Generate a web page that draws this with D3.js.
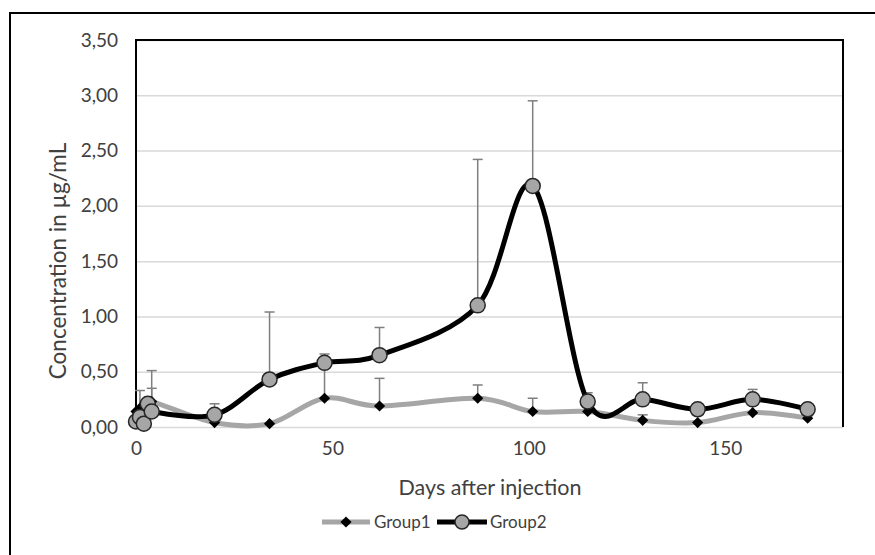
<!DOCTYPE html>
<html lang="en">
<head>
<meta charset="UTF-8">
<title>Concentration chart</title>
<script src="https://cdn.jsdelivr.net/npm/d3@7"></script>
<style>
  body { margin: 0; background: #fff; }
  text { font-family: Lato, "Open Sans", sans-serif; fill: #404040; }
</style>
</head>
<body>
<div id="chart"></div>
<script>
  // values
  const days = [0, 1, 2, 3, 4, 20, 34, 48, 62, 87, 101, 115, 129, 143, 157, 171];
  const group1 = [0.14, 0.17, 0.10, 0.19, 0.23, 0.04, 0.03, 0.26, 0.19, 0.26, 0.14, 0.14, 0.06, 0.04, 0.13, 0.08];
  const group2 = [0.05, 0.09, 0.03, 0.21, 0.14, 0.11, 0.43, 0.58, 0.65, 1.10, 2.18, 0.23, 0.25, 0.16, 0.25, 0.16];
  const group1Err = [0, 0.16, 0, 0, 0.12, 0, 0, 0.40, 0.25, 0.12, 0.12, 0, 0.05, 0, 0, 0.02];
  const group2Err = [0, 0, 0, 0, 0.37, 0.10, 0.61, 0.05, 0.25, 1.32, 0.77, 0.08, 0.15, 0, 0.09, 0.05];
  const yTicks = [0, 0.5, 1, 1.5, 2, 2.5, 3, 3.5];
  const xTicks = [0, 50, 100, 150];

  const W = 875, H = 555;
  const svg = d3.select('#chart').append('svg')
    .attr('width', W)
    .attr('height', H);

  // outer chart border (cut off at right and bottom)
  svg.append('rect')
    .attr('x', 10).attr('y', 13)
    .attr('width', 900).attr('height', 600)
    .attr('fill', 'none')
    .attr('stroke', '#000')
    .attr('stroke-width', 2);

  const x = d3.scaleLinear().domain([0, 180]).range([136, 843]);
  const y = d3.scaleLinear().domain([0, 3.5]).range([427, 40]);

  // gridlines
  svg.append('g')
    .attr('transform', 'translate(136,0)')
    .call(d3.axisLeft(y).tickValues(yTicks).tickSize(-(843 - 136)).tickFormat(''))
    .call(g => g.select('.domain').remove())
    .call(g => g.selectAll('line').attr('stroke', '#d9d9d9').attr('stroke-width', 1.5));

  // y tick labels
  svg.append('g')
    .attr('transform', 'translate(136,0)')
    .call(d3.axisLeft(y).tickValues(yTicks).tickSize(0).tickPadding(18)
      .tickFormat(d => d.toFixed(2).replace('.', ',')))
    .call(g => g.select('.domain').remove())
    .call(g => g.selectAll('text').attr('font-size', 19).attr('font-family', 'Lato, sans-serif').attr('fill', '#404040'));

  // x tick labels
  svg.append('g')
    .attr('transform', 'translate(0,427)')
    .call(d3.axisBottom(x).tickValues(xTicks).tickSize(0).tickPadding(15))
    .call(g => g.select('.domain').remove())
    .call(g => g.selectAll('text').attr('font-size', 19).attr('font-family', 'Lato, sans-serif').attr('fill', '#404040'));

  // plot area border: top, left, right
  svg.append('path')
    .attr('d', `M136,427V40H843V427`)
    .attr('fill', 'none')
    .attr('stroke', '#000')
    .attr('stroke-width', 2);

  // axis titles
  svg.append('text')
    .attr('x', 490).attr('y', 495)
    .attr('text-anchor', 'middle')
    .attr('font-size', 21.5)
    .text('Days after injection');

  svg.append('text')
    .attr('transform', 'translate(66,261) rotate(-90)')
    .attr('text-anchor', 'middle')
    .attr('font-size', 22.5)
    .text('Concentration in µg/mL');

  const g1 = days.map((d, i) => ({ x: d, y: group1[i], e: group1Err[i] }));
  const g2 = days.map((d, i) => ({ x: d, y: group2[i], e: group2Err[i] }));

  // error bars (plus direction only)
  function errorBars(data) {
    const eb = svg.append('g').attr('stroke', '#7f7f7f').attr('stroke-width', 1.5);
    data.filter(d => d.e > 0).forEach(d => {
      eb.append('line')
        .attr('x1', x(d.x)).attr('x2', x(d.x))
        .attr('y1', y(d.y)).attr('y2', y(d.y + d.e));
      eb.append('line')
        .attr('x1', x(d.x) - 5).attr('x2', x(d.x) + 5)
        .attr('y1', y(d.y + d.e)).attr('y2', y(d.y + d.e));
    });
  }
  errorBars(g1);
  errorBars(g2);

  const line = d3.line()
    .x(d => x(d.x))
    .y(d => y(d.y))
    .curve(d3.curveCardinal.tension(0));

  svg.append('path')
    .datum(g1)
    .attr('d', line)
    .attr('fill', 'none')
    .attr('stroke', '#a6a6a6')
    .attr('stroke-width', 5)
    .attr('stroke-linejoin', 'round');

  svg.append('path')
    .datum(g2)
    .attr('d', line)
    .attr('fill', 'none')
    .attr('stroke', '#000')
    .attr('stroke-width', 5)
    .attr('stroke-linejoin', 'round');

  const diamond = d3.symbol().type(d3.symbolDiamond2).size(80);

  svg.append('g').selectAll('path')
    .data(g1)
    .enter()
    .append('path')
    .attr('d', diamond)
    .attr('transform', d => `translate(${x(d.x)},${y(d.y)})`)
    .attr('fill', '#000');

  svg.append('g').selectAll('circle')
    .data(g2)
    .enter()
    .append('circle')
    .attr('cx', d => x(d.x))
    .attr('cy', d => y(d.y))
    .attr('r', 7.5)
    .attr('fill', '#a6a6a6')
    .attr('stroke', '#262626')
    .attr('stroke-width', 1.5);

  // legend
  const leg = svg.append('g').attr('transform', 'translate(0,522)');
  leg.append('line').attr('x1', 322).attr('x2', 370).attr('stroke', '#a6a6a6').attr('stroke-width', 5);
  leg.append('path').attr('d', diamond).attr('transform', 'translate(346,0)').attr('fill', '#000');
  leg.append('text').attr('x', 374).attr('y', 6).attr('font-size', 17).text('Group1');
  leg.append('line').attr('x1', 437).attr('x2', 487).attr('stroke', '#000').attr('stroke-width', 5);
  leg.append('circle').attr('cx', 462).attr('cy', 0).attr('r', 7).attr('fill', '#a6a6a6').attr('stroke', '#262626').attr('stroke-width', 1.5);
  leg.append('text').attr('x', 490).attr('y', 6).attr('font-size', 17).text('Group2');
</script>
</body>
</html>
